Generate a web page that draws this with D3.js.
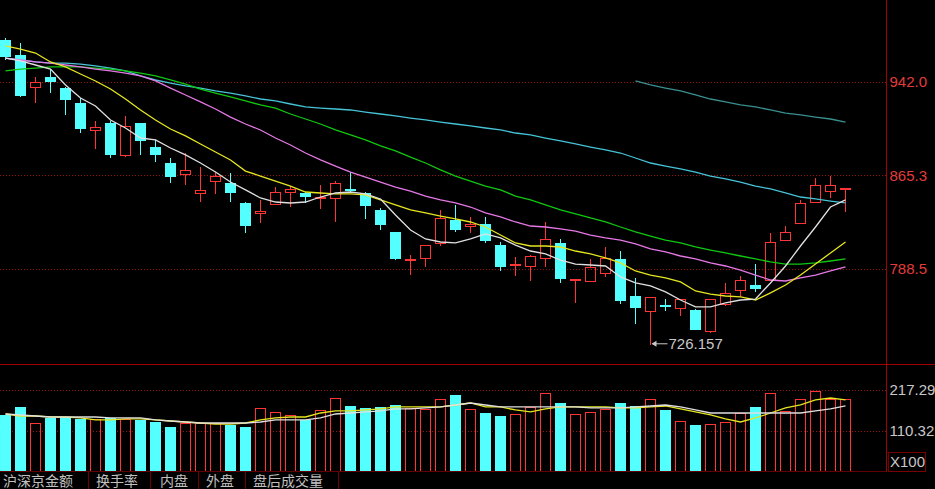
<!DOCTYPE html>
<html>
<head>
<meta charset="utf-8">
<script src="https://cdn.jsdelivr.net/npm/d3@7"></script>
<style>
  body { margin: 0; background: #000; overflow: hidden; }
</style>
</head>
<body>
<script>
// daily candles, oldest first
const opens = [976.2, 963.9, 936.8, 945.9, 936.8, 924.5, 901.6, 908.1, 881.1, 908.1, 888.4, 875.3, 865.5, 849.9, 859.7, 858.9, 842.5, 833.5, 840.9, 850.7, 850.7, 845.8, 845.8, 854.0, 850.7, 836.8, 818.7, 795.7, 796.6, 808.9, 828.5, 822.8, 825.3, 808.0, 790.8, 790.0, 796.6, 809.7, 778.5, 777.7, 784.2, 796.6, 766.2, 753.1, 758.8, 755.5, 754.7, 736.7, 758.8, 770.3, 775.2, 778.5, 811.3, 825.3, 842.5, 851.5, 853.2];
const highs = [977.9, 973.8, 945.9, 952.4, 937.7, 928.6, 909.8, 909.8, 913.9, 908.1, 894.2, 879.4, 883.5, 872.0, 867.9, 867.1, 843.3, 845.0, 855.6, 856.4, 851.5, 857.3, 860.5, 867.9, 851.5, 838.4, 818.7, 799.8, 808.0, 836.8, 840.9, 831.0, 831.0, 810.5, 798.2, 799.8, 826.9, 813.0, 780.1, 796.6, 806.4, 803.1, 781.0, 765.4, 763.7, 763.7, 755.5, 763.7, 776.9, 782.6, 792.4, 817.9, 823.6, 845.0, 863.0, 864.6, 854.8];
const lows = [959.8, 929.5, 924.5, 932.7, 914.7, 899.9, 886.8, 879.4, 880.2, 881.9, 876.1, 858.9, 857.3, 843.3, 849.9, 843.3, 817.9, 826.1, 840.9, 839.2, 842.5, 837.6, 826.9, 850.7, 829.4, 820.3, 795.7, 783.4, 790.0, 807.2, 818.7, 817.9, 809.7, 786.7, 782.6, 778.5, 790.0, 776.9, 760.5, 777.7, 781.8, 759.6, 743.2, 726.157, 753.9, 749.8, 738.3, 735.8, 758.0, 765.4, 769.5, 778.5, 811.3, 825.3, 842.5, 846.6, 835.1];
const closes = [962.3, 930.3, 941.8, 941.8, 927.0, 903.2, 904.8, 881.9, 905.7, 893.4, 881.9, 863.8, 869.6, 853.2, 864.6, 850.7, 823.6, 835.9, 851.5, 854.0, 847.4, 847.4, 858.9, 852.3, 840.0, 824.4, 796.6, 796.6, 808.0, 830.2, 820.3, 825.3, 811.3, 790.0, 792.4, 799.0, 813.0, 780.1, 780.1, 790.0, 797.4, 762.1, 756.4, 765.4, 757.2, 763.7, 738.3, 763.7, 768.7, 779.3, 771.9, 810.5, 818.7, 842.5, 857.3, 857.3, 854.8];

// moving averages as shown on the chart
const ma5 = [961.4, 959.0, 955.7, 952.4, 939.3, 928.6, 922.1, 910.6, 904.0, 895.8, 894.2, 887.6, 881.9, 875.3, 867.9, 859.7, 853.2, 846.6, 843.3, 842.5, 843.3, 847.4, 850.7, 851.5, 849.9, 845.8, 832.6, 820.3, 813.0, 810.5, 809.7, 813.0, 817.1, 813.8, 808.0, 803.1, 800.7, 795.7, 792.4, 791.6, 790.8, 781.8, 776.9, 774.4, 769.5, 762.9, 757.2, 757.2, 760.5, 762.9, 763.7, 776.9, 790.8, 807.2, 822.8, 839.2, 845.0];
const ma10 = [971.3, 968.8, 965.5, 958.2, 954.1, 948.3, 942.6, 936.0, 927.8, 918.8, 910.6, 903.2, 897.5, 890.9, 884.3, 877.8, 868.7, 864.6, 860.5, 856.4, 851.5, 850.7, 849.9, 849.9, 849.1, 845.0, 840.9, 836.8, 834.3, 831.8, 829.4, 826.9, 822.8, 816.2, 809.7, 807.2, 807.2, 806.4, 803.1, 800.7, 797.4, 793.3, 786.7, 783.4, 781.0, 777.7, 770.3, 767.8, 766.2, 765.4, 762.9, 768.7, 775.2, 783.4, 792.4, 801.5, 810.5];
const ma20 = [961.4, 959.8, 958.2, 957.3, 955.7, 954.1, 952.4, 950.8, 949.1, 946.7, 942.6, 936.8, 931.1, 925.4, 919.6, 913.0, 907.3, 902.4, 895.8, 890.1, 883.5, 877.8, 872.8, 867.9, 863.8, 859.7, 855.6, 852.3, 848.2, 845.0, 842.5, 839.2, 834.3, 831.0, 826.9, 823.6, 822.8, 821.2, 819.5, 816.2, 813.8, 812.1, 808.9, 804.8, 802.3, 799.0, 796.6, 793.3, 790.8, 787.5, 783.4, 779.3, 778.5, 781.0, 783.4, 786.7, 790.0];
const ma30 = [950.8, 952.4, 953.2, 954.1, 954.1, 954.1, 953.2, 952.4, 950.8, 949.1, 946.7, 943.4, 940.1, 936.0, 932.7, 929.5, 926.2, 922.9, 920.4, 915.5, 911.4, 907.3, 902.4, 898.3, 894.2, 889.3, 885.2, 880.2, 875.3, 869.6, 864.6, 860.5, 856.4, 853.2, 848.2, 845.0, 840.9, 836.8, 833.5, 830.2, 826.9, 822.8, 818.7, 815.4, 812.1, 809.7, 806.4, 803.9, 801.5, 799.0, 796.6, 794.1, 792.4, 792.4, 793.3, 794.9, 796.6];
const ma60 = [961.4, 959.8, 958.2, 957.3, 957.3, 956.5, 954.9, 953.2, 950.8, 946.7, 943.4, 940.9, 938.5, 936.8, 934.4, 932.7, 930.3, 927.8, 926.2, 923.7, 921.3, 920.4, 919.6, 918.8, 917.1, 915.5, 913.9, 912.2, 910.6, 908.9, 907.3, 905.7, 904.0, 902.4, 899.9, 898.3, 895.8, 893.4, 890.9, 888.4, 886.0, 883.5, 879.4, 875.3, 872.8, 870.4, 867.9, 864.6, 862.2, 859.7, 856.4, 854.0, 850.7, 847.4, 845.8, 844.1, 842.5];
const ma120Start = 42;
const ma120 = [942.6, 939.3, 936.8, 934.4, 931.1, 927.8, 925.4, 922.9, 921.3, 918.8, 916.3, 914.7, 913.0, 911.4, 908.9];

// volume, x100
const volumes = [150.8, 171.7, 129.9, 143.0, 145.6, 140.4, 140.4, 143.0, 140.4, 137.8, 132.5, 119.5, 129.9, 129.9, 129.9, 124.7, 119.5, 169.1, 158.7, 150.8, 137.8, 163.9, 195.1, 174.3, 169.1, 171.7, 176.9, 169.1, 166.5, 192.5, 203.0, 166.5, 156.0, 148.2, 153.4, 171.7, 208.2, 182.1, 153.4, 158.7, 166.5, 182.1, 174.3, 192.5, 163.9, 135.1, 124.7, 127.3, 132.5, 156.0, 171.7, 208.2, 161.3, 192.5, 213.4, 192.5, 192.5];
const volMa5 = [153.4, 150.8, 148.2, 145.6, 145.6, 145.6, 145.6, 143.0, 143.0, 143.0, 137.8, 135.1, 132.5, 129.9, 129.9, 129.9, 129.9, 132.5, 137.8, 137.8, 137.8, 143.0, 153.4, 156.0, 158.7, 161.3, 166.5, 166.5, 169.1, 171.7, 176.9, 182.1, 176.9, 171.7, 171.7, 171.7, 171.7, 171.7, 171.7, 169.1, 169.1, 169.1, 171.7, 174.3, 176.9, 171.7, 163.9, 156.0, 156.0, 156.0, 156.0, 156.0, 156.0, 156.0, 161.3, 166.5, 174.3];
const volMa10 = [153.4, 148.2, 148.2, 145.6, 145.6, 143.0, 137.8, 137.8, 140.4, 140.4, 137.8, 135.1, 132.5, 129.9, 127.3, 127.3, 129.9, 137.8, 143.0, 145.6, 145.6, 156.0, 161.3, 161.3, 163.9, 166.5, 171.7, 171.7, 171.7, 171.7, 176.9, 182.1, 171.7, 171.7, 163.9, 158.7, 166.5, 171.7, 171.7, 171.7, 171.7, 169.1, 169.1, 171.7, 174.3, 166.5, 158.7, 150.8, 140.4, 132.5, 143.0, 156.0, 169.1, 176.9, 190.0, 195.1, 190.0];

const priceTicks = [942.0, 865.3, 788.5];
const volTicks = [217.29, 110.32];
const volUnit = 'X100';
const tabLabels = ['沪深京金额', '换手率', '内盘', '外盘', '盘后成交量'];

const W = 935, H = 489;
const plotRight = 886.5;
const pricePane = { top: 0, bottom: 364 };
const volPane = { top: 365, bottom: 471 };

const up = '#ff3434', down = '#54ffff', frame = '#a00000', grid = '#9a1010';

const svg = d3.select('body').append('svg')
  .attr('width', W)
  .attr('height', H)
  .style('display', 'block')
  .style('background', '#000');

const x = d3.scaleLinear().domain([0, closes.length - 1]).range([5.5, 845.5]);
const yP = d3.scaleLinear().domain([788.5, 942.0]).range([268.8, 81.7]);
const yV = d3.scaleLinear().domain([110.32, 217.29]).range([430.5, 389.5]);
const bw = 11;

const defs = svg.append('defs');
defs.append('clipPath').attr('id', 'clipP')
  .append('rect').attr('x', 0).attr('y', pricePane.top).attr('width', plotRight).attr('height', pricePane.bottom - pricePane.top);
defs.append('clipPath').attr('id', 'clipV')
  .append('rect').attr('x', 0).attr('y', volPane.top).attr('width', plotRight).attr('height', volPane.bottom - volPane.top);

// dotted grid
svg.append('g').selectAll('line')
  .data(priceTicks.map(yP).concat(volTicks.map(yV)))
  .join('line')
  .attr('x1', 0).attr('x2', plotRight)
  .attr('y1', d => Math.round(d) + .5).attr('y2', d => Math.round(d) + .5)
  .attr('stroke', grid)
  .attr('stroke-dasharray', '1,2');

const candles = closes.map((c, i) => ({ i, o: opens[i], h: highs[i], l: lows[i], c, up: c >= opens[i] }));

// price pane
const pg = svg.append('g').attr('clip-path', 'url(#clipP)').attr('shape-rendering', 'crispEdges');
const cg = pg.selectAll('g.candle').data(candles).join('g').attr('class', 'candle');

cg.each(function (d) {
  const g = d3.select(this);
  const cx = x(d.i);
  const top = Math.round(yP(Math.max(d.o, d.c)));
  const bot = Math.max(top + 1, Math.round(yP(Math.min(d.o, d.c))));
  const hi = Math.round(yP(d.h)), lo = Math.round(yP(d.l));
  const col = d.up ? up : down;
  if (d.up) {
    if (hi < top) g.append('line').attr('x1', cx).attr('x2', cx).attr('y1', hi).attr('y2', top).attr('stroke', col);
    if (lo > bot) g.append('line').attr('x1', cx).attr('x2', cx).attr('y1', bot).attr('y2', lo).attr('stroke', col);
    g.append('rect')
      .attr('x', cx - bw / 2 + .5).attr('y', top + .5)
      .attr('width', bw - 1).attr('height', Math.max(1, bot - top - 1))
      .attr('fill', 'none').attr('stroke', col);
  } else {
    g.append('line').attr('x1', cx).attr('x2', cx).attr('y1', hi).attr('y2', lo).attr('stroke', col);
    g.append('rect')
      .attr('x', cx - bw / 2).attr('y', top)
      .attr('width', bw).attr('height', Math.max(1, bot - top))
      .attr('fill', col);
  }
});

const line = d3.line().x(d => x(d[0])).y(d => yP(d[1])).curve(d3.curveLinear);
const maSeries = [
  { vals: ma60.map((v, i) => [i, v]), color: '#46c3d7' },
  { vals: ma120.map((v, i) => [i + ma120Start, v]), color: '#3a8f8f' },
  { vals: ma30.map((v, i) => [i, v]), color: '#10c810' },
  { vals: ma20.map((v, i) => [i, v]), color: '#e678e6' },
  { vals: ma10.map((v, i) => [i, v]), color: '#e6e620' },
  { vals: ma5.map((v, i) => [i, v]), color: '#e0e0e0' }
];
svg.append('g').attr('clip-path', 'url(#clipP)')
  .selectAll('path').data(maSeries).join('path')
  .attr('d', d => line(d.vals))
  .attr('fill', 'none')
  .attr('stroke', d => d.color)
  .attr('stroke-width', 1.3);

// lowest point marker
const lowIdx = lows.indexOf(d3.min(lows));
const lowY = yP(lows[lowIdx]) - 1;
const mk = svg.append('g').attr('fill', '#c8c8c8').attr('stroke', '#c8c8c8');
mk.append('line')
  .attr('x1', x(lowIdx) + 2).attr('x2', x(lowIdx) + 17)
  .attr('y1', lowY).attr('y2', lowY);
mk.append('path')
  .attr('d', `M${x(lowIdx) + 1},${lowY}l5,-3v6z`)
  .attr('stroke', 'none');
mk.append('text')
  .attr('x', x(lowIdx) + 18).attr('y', lowY)
  .attr('dy', '0.36em')
  .attr('stroke', 'none')
  .attr('font-family', 'Liberation Sans, Arial, sans-serif')
  .attr('font-size', '15px')
  .text(d3.format('.3f')(lows[lowIdx]));

// volume pane
const vg = svg.append('g').attr('clip-path', 'url(#clipV)').attr('shape-rendering', 'crispEdges');
vg.selectAll('rect').data(candles).join('rect')
  .attr('x', d => d.up ? x(d.i) - bw / 2 + .5 : x(d.i) - bw / 2)
  .attr('y', d => Math.round(yV(volumes[d.i])) + (d.up ? .5 : 0))
  .attr('width', d => d.up ? bw - 1 : bw)
  .attr('height', d => volPane.bottom - Math.round(yV(volumes[d.i])) + 1)
  .attr('fill', d => d.up ? 'none' : down)
  .attr('stroke', d => d.up ? up : 'none');

const vline = d3.line().x((d, i) => x(i)).y(d => yV(d));
svg.append('g').attr('clip-path', 'url(#clipV)')
  .selectAll('path').data([{ vals: volMa10, color: '#e6e620' }, { vals: volMa5, color: '#e0e0e0' }])
  .join('path')
  .attr('d', d => vline(d.vals))
  .attr('fill', 'none')
  .attr('stroke', d => d.color)
  .attr('stroke-width', 1.3);

// frame
const fr = svg.append('g').attr('stroke', frame).attr('shape-rendering', 'crispEdges');
fr.append('line').attr('x1', 0).attr('x2', W).attr('y1', 364.5).attr('y2', 364.5);
fr.append('line').attr('x1', plotRight).attr('x2', plotRight).attr('y1', 0).attr('y2', volPane.bottom);
fr.append('line').attr('x1', 0).attr('x2', plotRight).attr('y1', volPane.bottom + .5).attr('y2', volPane.bottom + .5).attr('stroke', '#600000');

// right axes
svg.append('g')
  .attr('transform', `translate(${plotRight},0)`)
  .call(d3.axisRight(yP).tickValues(priceTicks).tickSize(0).tickPadding(3).tickFormat(d3.format('.1f')))
  .call(g => g.select('.domain').remove())
  .call(g => g.selectAll('text')
    .attr('fill', '#e23c3c')
    .attr('font-family', 'Liberation Sans, Arial, sans-serif')
    .attr('font-size', '15px'));

svg.append('g')
  .attr('transform', `translate(${plotRight},0)`)
  .call(d3.axisRight(yV).tickValues(volTicks).tickSize(0).tickPadding(3).tickFormat(d3.format('.2f')))
  .call(g => g.select('.domain').remove())
  .call(g => g.selectAll('text')
    .attr('fill', '#c8c8c8')
    .attr('font-family', 'Liberation Sans, Arial, sans-serif')
    .attr('font-size', '15px'));

const unit = svg.append('g');
unit.append('rect')
  .attr('x', 888.5).attr('y', 452.5).attr('width', 37).attr('height', 19)
  .attr('fill', 'none').attr('stroke', '#7a0000');
unit.append('text')
  .attr('x', 890).attr('y', 467)
  .attr('fill', '#c8c8c8')
  .attr('font-family', 'Liberation Sans, Arial, sans-serif')
  .attr('font-size', '15px')
  .text(volUnit);

// bottom tabs
const tabX = [3, 96, 160, 206, 253];
const tabSep = [88, 150, 198, 245, 338];
const tabs = svg.append('g');
tabs.selectAll('line').data(tabSep).join('line')
  .attr('x1', d => d + .5).attr('x2', d => d + .5)
  .attr('y1', 472).attr('y2', H)
  .attr('stroke', '#700000');
tabs.selectAll('text').data(tabLabels).join('text')
  .attr('x', (d, i) => tabX[i]).attr('y', 486)
  .attr('fill', '#c0c0c0')
  .attr('font-family', 'Noto Sans CJK SC, sans-serif')
  .attr('font-size', '14px')
  .text(d => d);
</script>
</body>
</html>
